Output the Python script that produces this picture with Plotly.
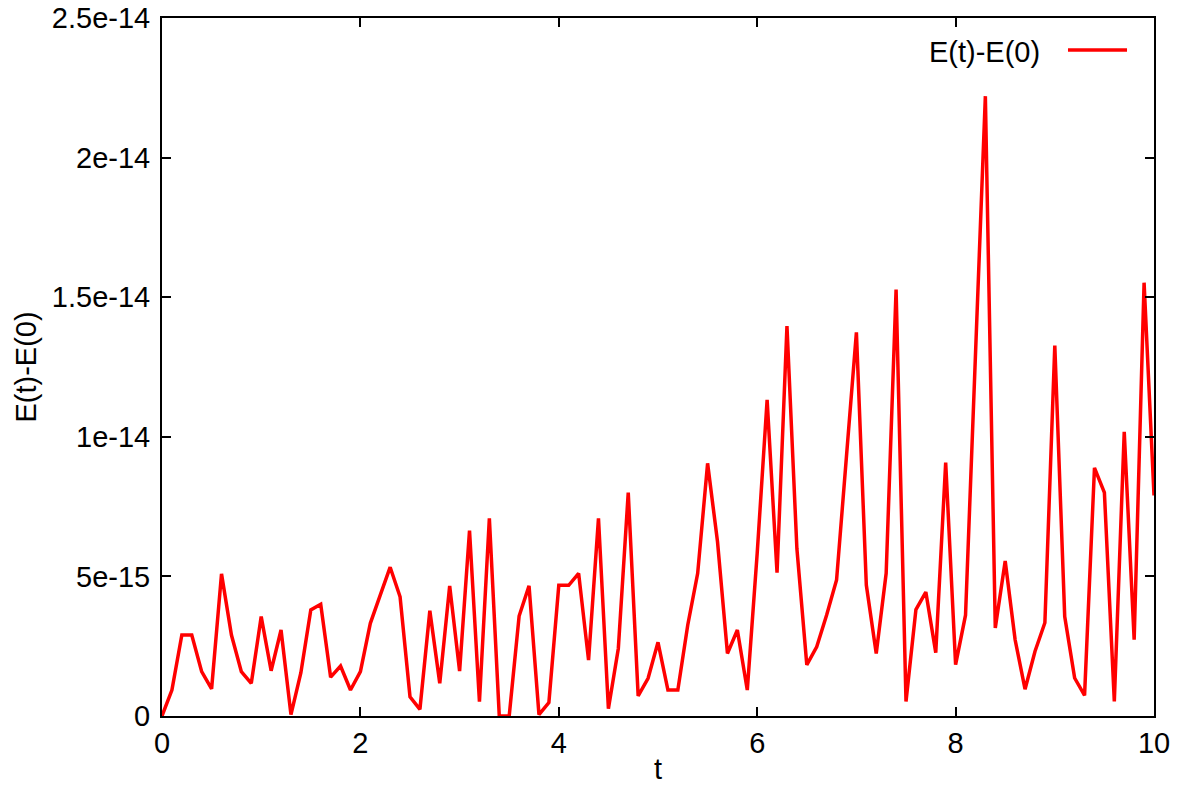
import plotly.graph_objects as go

# time samples
t = [0.0, 0.1, 0.2, 0.3, 0.4, 0.5, 0.6, 0.7, 0.8, 0.9,
     1.0, 1.1, 1.2, 1.3, 1.4, 1.5, 1.6, 1.7, 1.8, 1.9,
     2.0, 2.1, 2.2, 2.3, 2.4, 2.5, 2.6, 2.7, 2.8, 2.9,
     3.0, 3.1, 3.2, 3.3, 3.4, 3.5, 3.6, 3.7, 3.8, 3.9,
     4.0, 4.1, 4.2, 4.3, 4.4, 4.5, 4.6, 4.7, 4.8, 4.9,
     5.0, 5.1, 5.2, 5.3, 5.4, 5.5, 5.6, 5.7, 5.8, 5.9,
     6.0, 6.1, 6.2, 6.3, 6.4, 6.5, 6.6, 6.7, 6.8, 6.9,
     7.0, 7.1, 7.2, 7.3, 7.4, 7.5, 7.6, 7.7, 7.8, 7.9,
     8.0, 8.1, 8.2, 8.3, 8.4, 8.5, 8.6, 8.7, 8.8, 8.9,
     9.0, 9.1, 9.2, 9.3, 9.4, 9.5, 9.6, 9.7, 9.8, 9.9,
     10.0]

# E(t)-E(0) in units of 1e-15
dE_1e15 = [0.0, 0.93, 2.9, 2.9, 1.59, 0.97, 5.09, 2.9, 1.59, 1.17,
           3.56, 1.62, 3.08, 0.05, 1.55, 3.8, 4.0, 1.39, 1.79, 0.93,
           1.59, 3.32, 4.33, 5.33, 4.27, 0.69, 0.24, 3.77, 1.17, 4.66,
           1.61, 6.64, 0.51, 7.08, 0.0, 0.0, 3.58, 4.66, 0.05, 0.48,
           4.68, 4.68, 5.11, 2.0, 7.08, 0.26, 2.42, 8.0, 0.72, 1.35,
           2.64, 0.93, 0.93, 3.26, 5.11, 9.05, 6.24, 2.24, 3.08, 0.93,
           5.83, 11.32, 5.13, 13.97, 6.0, 1.83, 2.48, 3.62, 4.87, 9.3,
           13.74, 4.69, 2.24, 5.11, 15.27, 0.52, 3.81, 4.44, 2.27, 9.08,
           1.84, 3.61, 12.9, 22.2, 3.15, 5.55, 2.73, 0.96, 2.31, 3.34,
           13.27, 3.56, 1.36, 0.74, 8.89, 8.0, 0.52, 10.18, 2.73, 15.52,
           7.9]
dE = [v * 1e-15 for v in dE_1e15]

y_tickvals = [0, 5e-15, 1e-14, 1.5e-14, 2e-14, 2.5e-14]
y_ticktext = ["0", "5e-15", "1e-14", "1.5e-14", "2e-14", "2.5e-14"]
x_tickvals = [0, 2, 4, 6, 8, 10]
x_ticktext = ["0", "2", "4", "6", "8", "10"]

series_name = "E(t)-E(0)"
RED = "#ff0000"
FONT = "Liberation Sans, Arial, sans-serif"
FS = 29

fig = go.Figure()
fig.add_trace(go.Scatter(x=t, y=dE, mode="lines", name=series_name,
                         line=dict(color=RED, width=3.5), showlegend=False))

axis_common = dict(showline=True, linecolor="black", linewidth=2, mirror="allticks",
                   ticks="inside", ticklen=9, tickwidth=2, tickcolor="black",
                   showgrid=False, zeroline=False, automargin=False,
                   tickfont=dict(family=FONT, size=FS, color="black"))

fig.update_xaxes(range=[0, 10], tickvals=x_tickvals, ticktext=x_ticktext,
                 title=dict(text="t", font=dict(family=FONT, size=FS, color="black"), standoff=13),
                 **axis_common)
fig.update_yaxes(range=[0, 2.5e-14], tickvals=y_tickvals, ticktext=y_ticktext,
                 ticklabelstandoff=4,
                 title=dict(text="E(t)-E(0)", font=dict(family=FONT, size=FS, color="black"), standoff=7),
                 **axis_common)

# legend in gnuplot style: text then sample line
fig.add_annotation(x=0.887, y=0.952, xref="paper", yref="paper", xanchor="right", yanchor="middle",
                   text=series_name, showarrow=False, font=dict(family=FONT, size=FS, color="black"))
fig.add_shape(type="line", xref="paper", yref="paper", x0=0.9133, x1=0.9728, y0=0.954, y1=0.954,
              line=dict(color=RED, width=3.5))

fig.update_layout(width=1183, height=785, margin=dict(l=162, r=29, t=18, b=69),
                  plot_bgcolor="white", paper_bgcolor="white",
                  font=dict(family=FONT, size=FS, color="black"))

fig.write_html("out.html")
